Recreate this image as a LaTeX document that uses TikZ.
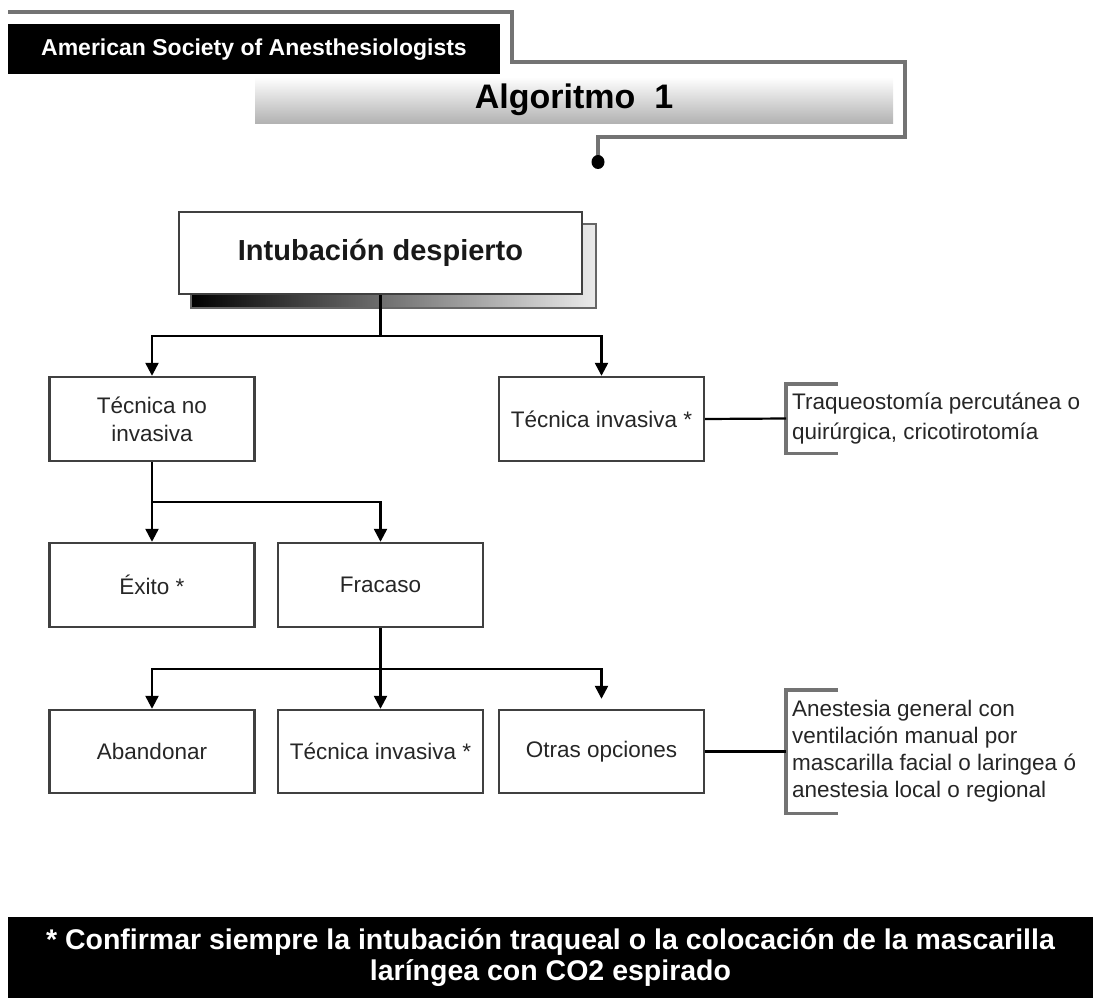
\documentclass[tikz,border=0pt]{standalone}
\usepackage{fontspec}
\setmainfont{Liberation Sans}
\usetikzlibrary{arrows.meta,backgrounds}

\tikzset{
  box/.style={draw=black!75, line width=2.4pt, fill=white, minimum width=205pt, minimum height=84pt,
    align=center, text=black!85, font=\fontsize{22.5}{28}\selectfont},
  arr/.style={line width=2.4pt, -{Triangle[length=13pt,width=13pt]}},
  link/.style={line width=2.2pt},
  brace/.style={draw=black!55, line width=3.4pt},
  note/.style={anchor=west, align=left, inner xsep=6pt, text=black!85, font=\fontsize{22.5}{27}\selectfont},
  header/.style={draw=black!55, line width=3.4pt}
}

\begin{document}
\begin{tikzpicture}[x=1pt,y=-1pt]
    \useasboundingbox (0,0) rectangle (1093,998);

    % Header
    \node[fill=black, minimum width=492pt, minimum height=50pt, text=white,
      font=\bfseries\fontsize{23}{27}\selectfont] (asa) at (254,49.5) {American Society of Anesthesiologists};
    \node[top color=white, bottom color=black!30, minimum width=638pt, minimum height=46pt,
      font=\bfseries\fontsize{34}{40}\selectfont] (alg) at (574,100) {Algoritmo\ \ 1};
    \coordinate (start) at (8,12);
    \coordinate (dot) at (598,162);
    \draw[header] (start) -| (512,62) -| (905,137) -| (dot);
    \fill (dot) ellipse (6.5pt and 7pt);

    % Main box with shadow
    \node[box, minimum width=403pt, minimum height=82pt, text=black!90,
      font=\bfseries\fontsize{29}{34}\selectfont] (main) at (380.5,253) {Intubación despierto};
    \begin{scope}[on background layer]
        \shade[left color=black, right color=black!8, draw=black!60, line width=1.5pt]
          ([shift={(13pt,-13pt)}]main.north west) rectangle ([shift={(13pt,-13pt)}]main.south east);
    \end{scope}

    % Boxes
    \node[box] (tni) at (152,419) {Técnica no\\invasiva};
    \node[box] (ti1) at (601.5,419) {Técnica invasiva *};
    \node[box] (exito) at (152,585) {Éxito *};
    \node[box] (fracaso) at (380.5,585) {Fracaso};
    \node[box, minimum height=83pt] (aband) at (152,751.5) {Abandonar};
    \node[box, minimum height=83pt] (ti2) at (380.5,751.5) {Técnica invasiva *};
    \node[box, minimum height=83pt] (otras) at (601.5,751.5) {Otras opciones};

    % Notes with brackets
    \node[note, minimum height=69pt, font=\fontsize{22.5}{30}\selectfont] (nota1) at (786,418.5)
      {Traqueostomía percutánea o\\quirúrgica, cricotirotomía};
    \node[note, minimum height=123pt] (nota2) at (786,751.5)
      {Anestesia general con\\ventilación manual por\\mascarilla facial o laringea ó\\anestesia local o regional};
    \draw[brace] ([xshift=52pt]nota1.north west) -- (nota1.north west) -- (nota1.south west) -- ([xshift=52pt]nota1.south west);
    \draw[brace] ([xshift=52pt]nota2.north west) -- (nota2.north west) -- (nota2.south west) -- ([xshift=52pt]nota2.south west);

    % Connectors
    \draw[arr] (main.south) -- ++(0,41) -| (tni.north);
    \draw[arr] (main.south) -- ++(0,41) -| (ti1.north);
    \draw[link] (ti1.east) -- (nota1.west);
    \draw[arr] (tni.south) -- ++(0,40) -| (exito.north);
    \draw[arr] (tni.south) -- ++(0,40) -| (fracaso.north);
    \draw[arr] (fracaso.south) -- ++(0,41) -| (aband.north);
    \draw[arr] (fracaso.south) -- (ti2.north);
    \coordinate (otrasin) at ([yshift=10pt]otras.north);
    \draw[arr] (fracaso.south) -- ++(0,41) -| (otrasin);
    \draw[link] (otras.east) -- (nota2.west);

    % Footer
    \node[fill=black, minimum width=1085pt, minimum height=81pt, text=white, align=center,
      font=\bfseries\fontsize{28.5}{31}\selectfont] (foot) at (550.5,957.5)
      {* Confirmar siempre la intubación traqueal o la colocación de la mascarilla\\laríngea con CO2 espirado};
\end{tikzpicture}
\end{document}
